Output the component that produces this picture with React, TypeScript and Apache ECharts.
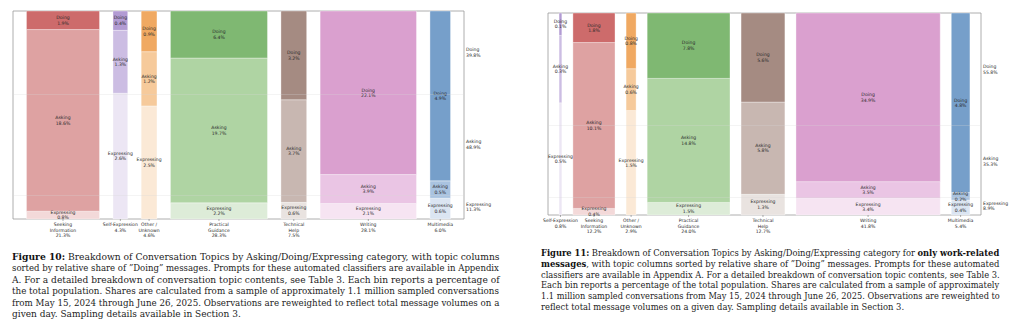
import React, { useEffect, useRef } from "react";
import * as echarts from "echarts";

// ---------- Figure 10: all messages ----------
const topics10 = ["Seeking\nInformation", "Self-Expression", "Other /\nUnknown", "Practical\nGuidance", "Technical\nHelp", "Writing", "Multimedia"];
const totals10 = [21.3, 4.3, 4.6, 28.3, 7.5, 28.1, 6.0];
const doing10 = [1.9, 0.4, 0.9, 6.4, 3.2, 22.1, 4.9];
const asking10 = [18.6, 1.3, 1.2, 19.7, 3.7, 3.9, 0.5];
const expressing10 = [0.8, 2.6, 2.5, 2.2, 0.6, 2.1, 0.6];
const overall10 = [39.8, 48.9, 11.3]; // Doing, Asking, Expressing

// ---------- Figure 11: work-related messages ----------
const topics11 = ["Self-Expression", "Seeking\nInformation", "Other /\nUnknown", "Practical\nGuidance", "Technical\nHelp", "Writing", "Multimedia"];
const totals11 = [0.8, 12.2, 2.9, 24.0, 12.7, 41.8, 5.4];
const doing11 = [0.1, 1.8, 0.8, 7.8, 5.6, 34.9, 4.8];
const asking11 = [0.3, 10.1, 0.6, 14.8, 5.8, 3.5, 0.2];
const expressing11 = [0.5, 0.4, 1.5, 1.5, 1.3, 3.4, 0.4];
const overall11 = [55.8, 35.3, 8.9];

const categoryNames = ["Doing", "Asking", "Expressing"];

// colours per topic: [Doing, Asking, Expressing]
const palette: Record<string, string[]> = {
  "Seeking\nInformation": ["#cd6b6b", "#dea2a2", "#f3d9d9"],
  "Self-Expression": ["#b29bd3", "#ccbde3", "#ece6f4"],
  "Other /\nUnknown": ["#f0a962", "#f6ca9b", "#fbe9d6"],
  "Practical\nGuidance": ["#7fb872", "#afd4a3", "#ddecd8"],
  "Technical\nHelp": ["#a58b82", "#c8b7b1", "#e9e3e0"],
  "Writing": ["#daa0cf", "#eac5e4", "#f6e4f2"],
  "Multimedia": ["#769fca", "#a9c3e0", "#dbe5f2"],
};

const caption10 = [
  "{b|Figure 10:} Breakdown of Conversation Topics by Asking/Doing/Expressing category, with topic columns",
  "sorted by relative share of ”Doing” messages. Prompts for these automated classifiers are available in Appendix",
  "A. For a detailed breakdown of conversation topic contents, see Table 3. Each bin reports a percentage of",
  "the total population. Shares are calculated from a sample of approximately 1.1 million sampled conversations",
  "from May 15, 2024 through June 26, 2025. Observations are reweighted to reflect total message volumes on a",
  "given day. Sampling details available in Section 3.",
];
const caption11 = [
  "{b|Figure 11:} Breakdown of Conversation Topics by Asking/Doing/Expressing category for {b|only work-related}",
  "{b|messages}, with topic columns sorted by relative share of ”Doing” messages. Prompts for these automated",
  "classifiers are available in Appendix A. For a detailed breakdown of conversation topic contents, see Table 3.",
  "Each bin reports a percentage of the total population. Shares are calculated from a sample of approximately",
  "1.1 million sampled conversations from May 15, 2024 through June 26, 2025. Observations are reweighted to",
  "reflect total message volumes on a given day. Sampling details available in Section 3.",
];

const SANS = '"DejaVu Sans"';
const SERIF = '"DejaVu Serif"';
const LABEL_SIZE = 4.6;
const LABEL_LH = 5.5;

function measureLine(line: string, size: number, family: string): number {
  const cv = document.createElement("canvas");
  const ctx = cv.getContext("2d")!;
  let w = 0;
  const re = /\{b\|([^}]*)\}/g;
  let last = 0;
  let m: RegExpExecArray | null;
  while ((m = re.exec(line))) {
    ctx.font = `${size}px ${family}`;
    w += ctx.measureText(line.slice(last, m.index)).width;
    ctx.font = `bold ${size}px ${family}`;
    w += ctx.measureText(m[1]).width;
    last = m.index + m[0].length;
  }
  ctx.font = `${size}px ${family}`;
  w += ctx.measureText(line.slice(last)).width;
  return w;
}

function captionElements(lines: string[], x: number, y0: number, step: number, size: number, width: number) {
  return lines.map((line, k) => {
    const natural = measureLine(line, size, SERIF);
    const isLast = k === lines.length - 1;
    const sx = isLast ? 1 : width / natural;
    return {
      type: "text",
      x,
      y: y0 + k * step,
      scaleX: sx,
      silent: true,
      style: {
        text: line,
        fill: "#1c1c1c",
        fontSize: size,
        fontFamily: SERIF,
        align: "left",
        verticalAlign: "middle",
        rich: {
          b: { fontWeight: "bold", fontSize: size, fontFamily: SERIF, fill: "#111" },
        },
      },
    };
  });
}

type ChartSpec = {
  topics: string[];
  totals: number[];
  doing: number[];
  asking: number[];
  expressing: number[];
  overall: number[];
  gap: number;
  grid: { left: number; top: number; width: number; height: number };
};

function buildOption() {
  const specs: ChartSpec[] = [
    { topics: topics10, totals: totals10, doing: doing10, asking: asking10, expressing: expressing10, overall: overall10, gap: 3.93, grid: { left: 13, top: 11, width: 451, height: 208 } },
    { topics: topics11, totals: totals11, doing: doing11, asking: asking11, expressing: expressing11, overall: overall11, gap: 3.21, grid: { left: 548, top: 13, width: 433, height: 202 } },
  ];
  const grids: any[] = [];
  const xAxes: any[] = [];
  const yAxes: any[] = [];
  const series: any[] = [];

  specs.forEach((sp, c) => {
    let x = sp.gap;
    const cols: number[][] = [];
    sp.totals.forEach((t, i) => {
      cols.push([x, x + t, sp.doing[i], sp.asking[i], sp.expressing[i], t, i]);
      x += t + sp.gap;
    });
    const span = x;
    grids.push({ ...sp.grid, show: true, borderColor: "#9a9a9a", borderWidth: 0.8, backgroundColor: "transparent" });
    xAxes.push({ gridIndex: c, type: "value", min: 0, max: span, show: false });
    yAxes.push({ gridIndex: c, type: "value", min: 0, max: 100, show: false });

    series.push({
      type: "custom",
      xAxisIndex: c,
      yAxisIndex: c,
      data: cols,
      z: 2,
      renderItem: (params: any, api: any) => {
        const i = api.value(6);
        const topic = sp.topics[i];
        const cl = palette[topic];
        const xs = api.value(0), xe = api.value(1);
        const d = api.value(2), a = api.value(3), e = api.value(4), tot = api.value(5);
        const s = d + a + e;
        const b1 = (e / s) * 100;
        const b2 = ((e + a) / s) * 100;
        const segs: any[] = [
          [0, b1, e, "Expressing", cl[2]],
          [b1, b2, a, "Asking", cl[1]],
          [b2, 100, d, "Doing", cl[0]],
        ];
        const children: any[] = [];
        segs.forEach(([y0, y1, v, name, color]) => {
          const p0 = api.coord([xs, y1]);
          const p1 = api.coord([xe, y0]);
          children.push({
            type: "rect",
            shape: { x: p0[0], y: p0[1], width: p1[0] - p0[0], height: p1[1] - p0[1] },
            style: { fill: color, stroke: "rgba(255,255,255,0.85)", lineWidth: 0.4 },
          });
        });
        segs.forEach(([y0, y1, v, name]) => {
          const pc = api.coord([(xs + xe) / 2, (y0 + y1) / 2]);
          children.push({
            type: "text",
            x: pc[0],
            y: pc[1],
            z2: 10,
            style: {
              text: `${name}\n${v.toFixed(1)}%`,
              fill: "#2a2a2a",
              fontSize: LABEL_SIZE,
              fontFamily: SANS,
              align: "center",
              verticalAlign: "middle",
              lineHeight: LABEL_LH,
            },
          });
        });
        const pb = api.coord([(xs + xe) / 2, 0]);
        children.push({
          type: "line",
          shape: { x1: pb[0], y1: pb[1], x2: pb[0], y2: pb[1] + 2 },
          style: { stroke: "#777", lineWidth: 0.6 },
        });
        children.push({
          type: "text",
          x: pb[0],
          y: pb[1] + 3,
          style: {
            text: `${topic}\n${tot.toFixed(1)}%`,
            fill: "#2a2a2a",
            fontSize: LABEL_SIZE,
            fontFamily: SANS,
            align: "center",
            verticalAlign: "top",
            lineHeight: LABEL_LH,
          },
        });
        return { type: "group", children };
      },
    });

    const [od, oa, oe] = sp.overall;
    const os = od + oa + oe;
    const ovData = [
      [span, ((oe + oa + od / 2) / os) * 100, od, 0],
      [span, ((oe + oa / 2) / os) * 100, oa, 1],
      [span, (oe / 2 / os) * 100, oe, 2],
    ];
    series.push({
      type: "custom",
      xAxisIndex: c,
      yAxisIndex: c,
      data: ovData,
      z: 5,
      renderItem: (params: any, api: any) => {
        const p = api.coord([api.value(0), api.value(1)]);
        return {
          type: "text",
          x: p[0] + 2,
          y: p[1],
          style: {
            text: `${categoryNames[api.value(3)]}\n${api.value(2).toFixed(1)}%`,
            fill: "#2a2a2a",
            fontSize: LABEL_SIZE,
            fontFamily: SANS,
            align: "left",
            verticalAlign: "middle",
            lineHeight: LABEL_LH,
          },
        };
      },
      markLine: {
        silent: true,
        symbol: "none",
        label: { show: false },
        lineStyle: { color: "rgba(215,215,215,0.35)", width: 0.8, type: "solid" },
        data: [{ yAxis: (oe / os) * 100 }, { yAxis: ((oe + oa) / os) * 100 }],
      },
    });
  });

  const graphic = [
    ...captionElements(caption10, 12, 257, 11.4, 9, 488),
    ...captionElements(caption11, 541, 253.3, 10.7, 8.4, 458),
  ];

  return {
    animation: false,
    backgroundColor: "#fff",
    grid: grids,
    xAxis: xAxes,
    yAxis: yAxes,
    series,
    graphic,
  };
}

export default function App() {
  const ref = useRef<HTMLDivElement>(null);
  useEffect(() => {
    const chart = echarts.init(ref.current!, undefined, { renderer: "svg" });
    chart.setOption(buildOption() as any);
    return () => chart.dispose();
  }, []);
  return (
    <div
      ref={ref}
      style={{ position: "absolute", left: 0, top: 0, width: 1024, height: 336, background: "#fff" }}
    />
  );
}
